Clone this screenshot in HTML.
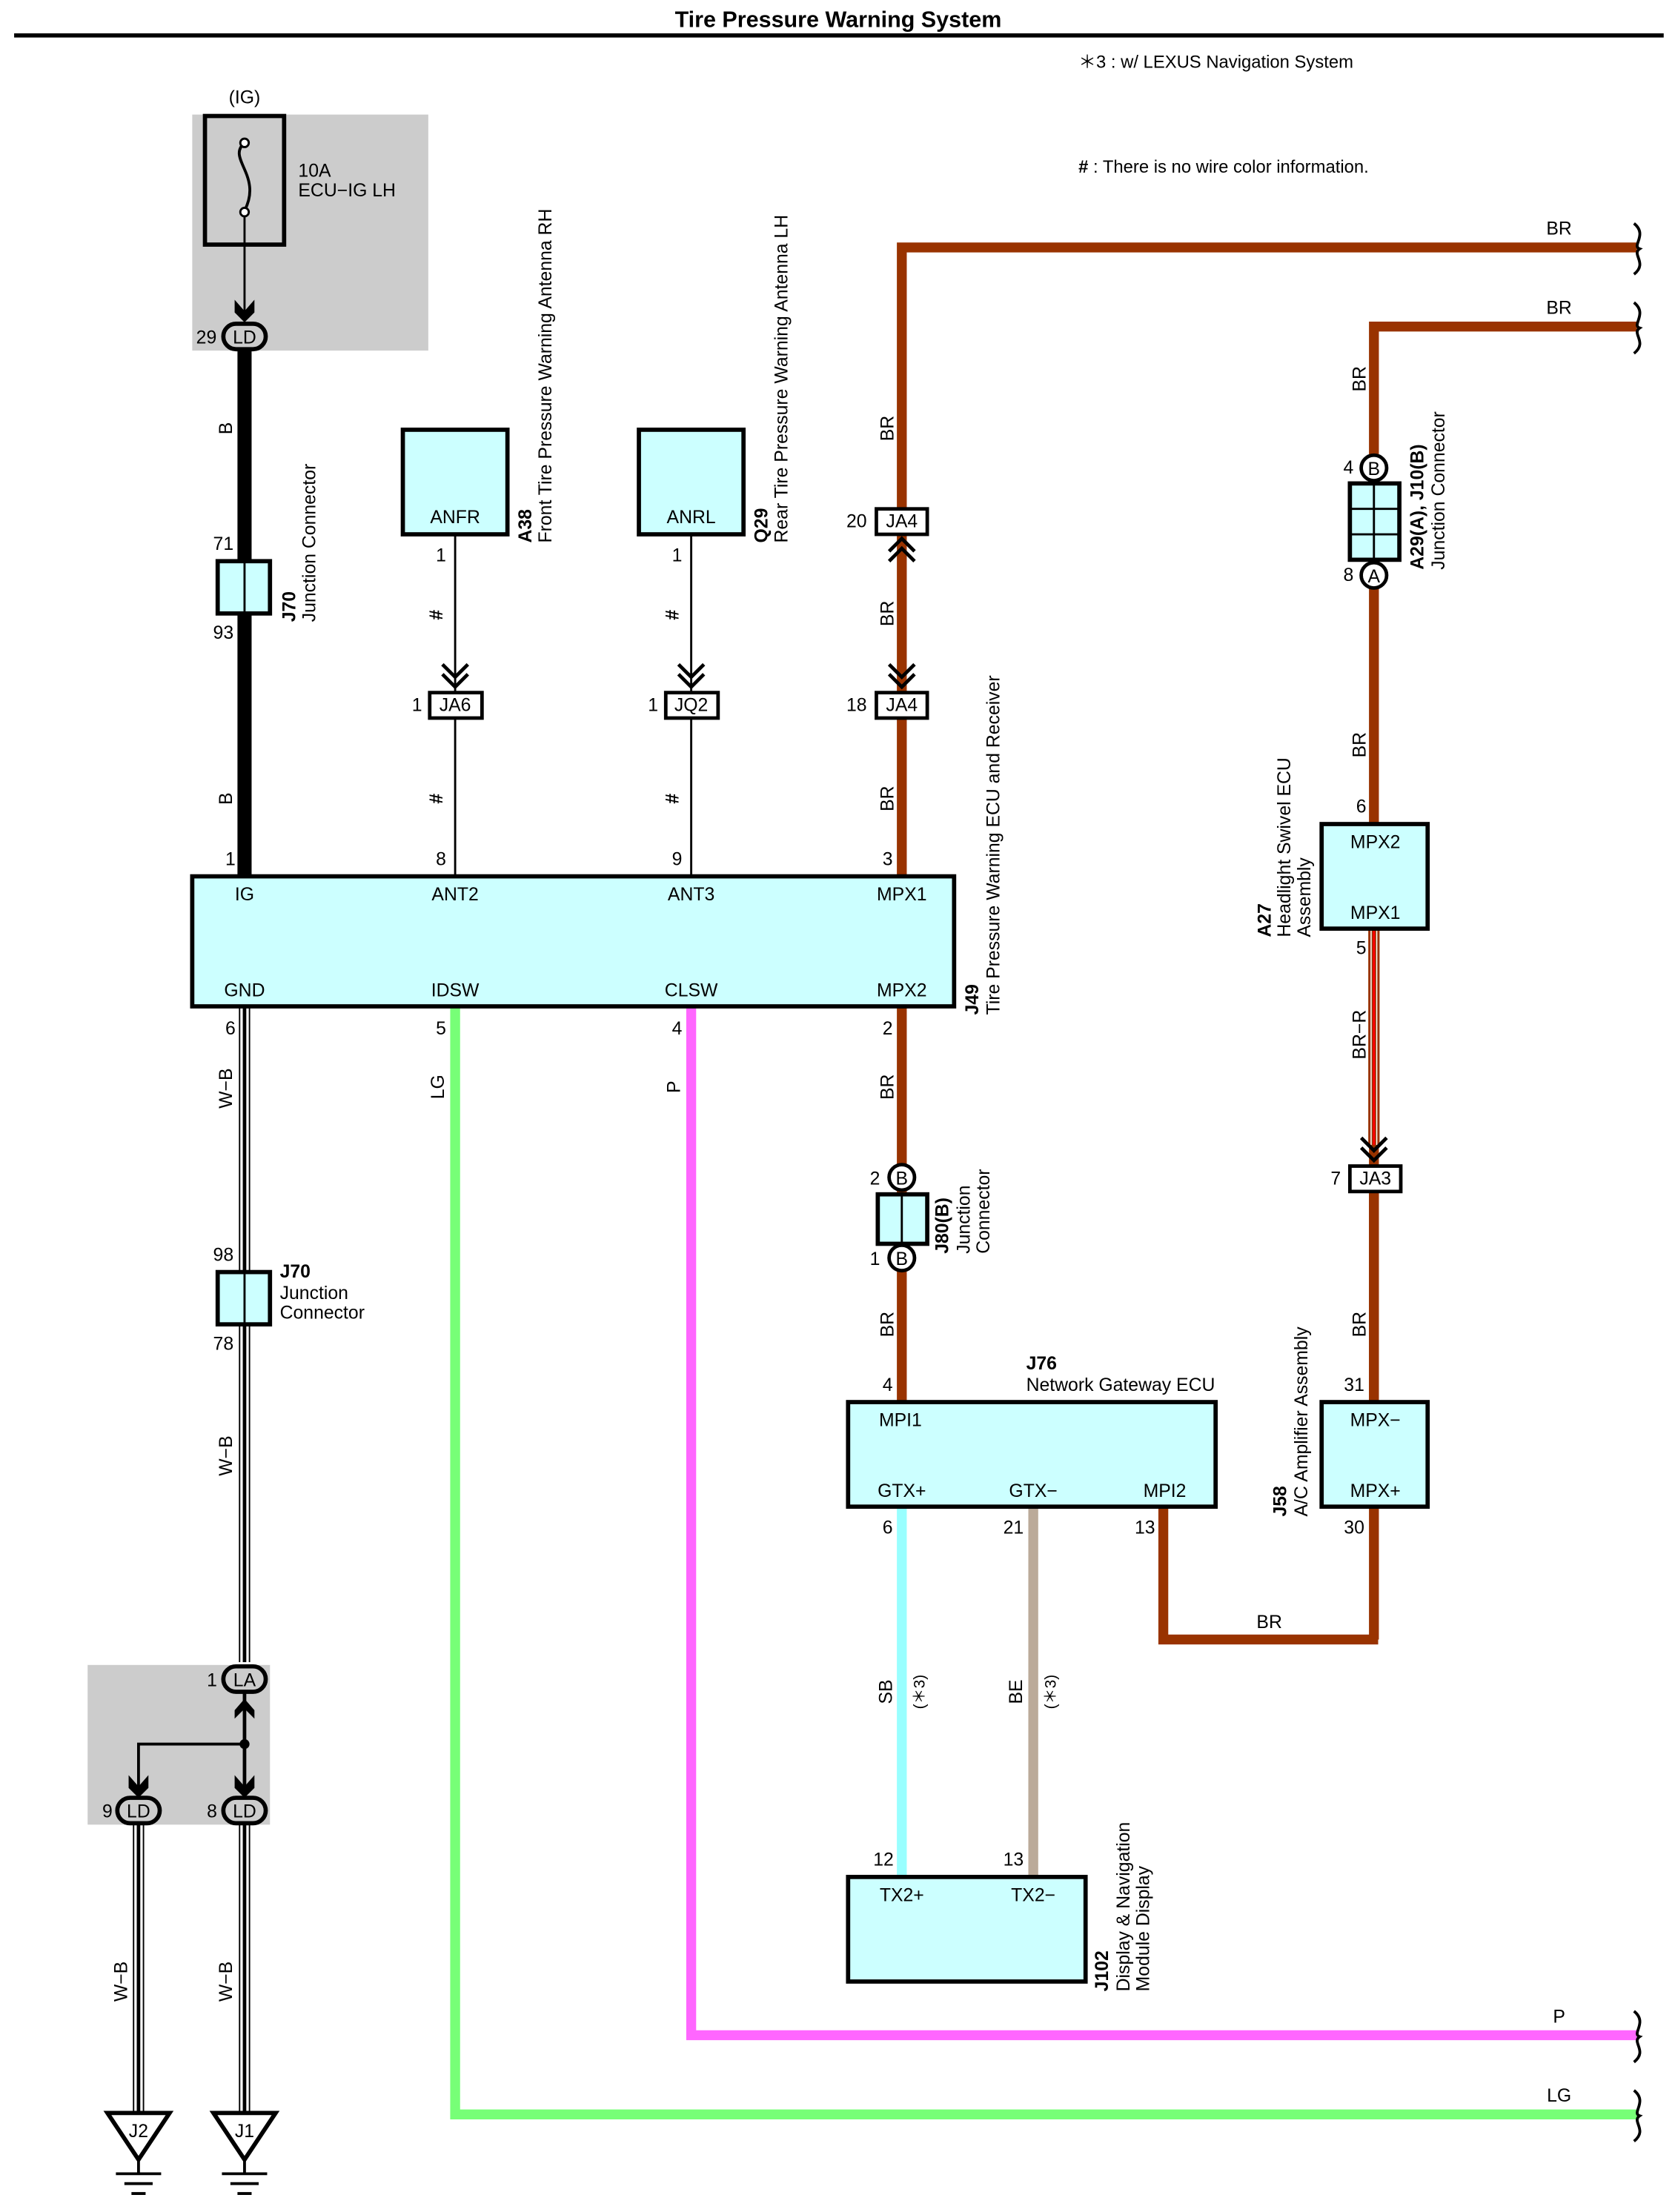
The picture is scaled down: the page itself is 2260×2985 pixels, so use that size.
<!DOCTYPE html>
<html><head><meta charset="utf-8"><style>html,body{margin:0;padding:0;background:#fff}svg{display:block}</style></head><body>
<svg width="2260" height="2985" viewBox="0 0 1185 1565" xmlns="http://www.w3.org/2000/svg" font-family="Liberation Sans, sans-serif" font-size="13">
<text x="593" y="19" text-anchor="middle" font-weight="bold" font-size="16">Tire Pressure Warning System</text>
<line x1="10" y1="25" x2="1177" y2="25" stroke="#000" stroke-width="3"/>
<text x="763" y="48" font-size="12.5">＊3 : w/ LEXUS Navigation System</text>
<text x="763" y="122" font-size="12.5"><tspan font-weight="bold">#</tspan> : There is no wire color information.</text>

<!-- gray areas -->
<rect x="136" y="81" width="167" height="167" fill="#cccccc"/>
<rect x="62" y="1178" width="129" height="113" fill="#cccccc"/>
<text x="173" y="73" text-anchor="middle">(IG)</text>
<rect x="145" y="82" width="56" height="91" fill="none" stroke="#000" stroke-width="3"/>
<path d="M173 101 C160 112,186 124,173 149" fill="none" stroke="#000" stroke-width="2"/>
<circle cx="173" cy="101" r="3" fill="#fff" stroke="#000" stroke-width="1.5"/>
<circle cx="173" cy="150" r="3" fill="#fff" stroke="#000" stroke-width="1.5"/>
<line x1="173" y1="153" x2="173" y2="226" stroke="#000" stroke-width="1.5"/>
<path d="M166 212 L173 220 L180 212 L180 221 L173 228 L166 221Z" fill="#000"/>
<text x="211" y="125">10A</text><text x="211" y="139">ECU−IG LH</text>

<!-- wires -->
<!-- B black -->
<line x1="173" y1="247" x2="173" y2="620" stroke="#000" stroke-width="10"/>
<!-- BR main -->
<g stroke="#993300" stroke-width="7" fill="none">
<path d="M638 620 V175 H1158"/>
<path d="M972 1160 V231 H1158"/>
<path d="M638 712 V992"/>
<path d="M823 1066 V1160 H975"/>
<path d="M972 843 V992"/>
</g>
<!-- BR-R -->
<line x1="972" y1="657" x2="972" y2="810" stroke="#993300" stroke-width="8"/>
<line x1="970" y1="657" x2="970" y2="810" stroke="#fff" stroke-width="0.8"/>
<line x1="974" y1="657" x2="974" y2="810" stroke="#fff" stroke-width="0.8"/>
<line x1="972" y1="657" x2="972" y2="810" stroke="#ff0000" stroke-width="1.5"/>
<!-- W-B -->
<g>
<line x1="173" y1="712" x2="173" y2="1176" stroke="#000" stroke-width="8"/>
<line x1="173" y1="712" x2="173" y2="1176" stroke="#fff" stroke-width="6"/>
<line x1="173" y1="712" x2="173" y2="1176" stroke="#000" stroke-width="2.5"/>
<line x1="98" y1="1290" x2="98" y2="1495" stroke="#000" stroke-width="8"/>
<line x1="98" y1="1290" x2="98" y2="1495" stroke="#fff" stroke-width="6"/>
<line x1="98" y1="1290" x2="98" y2="1495" stroke="#000" stroke-width="2.5"/>
<line x1="173" y1="1290" x2="173" y2="1495" stroke="#000" stroke-width="8"/>
<line x1="173" y1="1290" x2="173" y2="1495" stroke="#fff" stroke-width="6"/>
<line x1="173" y1="1290" x2="173" y2="1495" stroke="#000" stroke-width="2.5"/>
</g>
<!-- LG, P -->
<path d="M322 712 V1496 H1158" stroke="#77ff77" stroke-width="7" fill="none"/>
<path d="M489 712 V1440 H1158" stroke="#ff66ff" stroke-width="7" fill="none"/>
<!-- SB, BE -->
<line x1="638" y1="1066" x2="638" y2="1328" stroke="#99ffff" stroke-width="7"/>
<line x1="731" y1="1066" x2="731" y2="1328" stroke="#bbaa99" stroke-width="7"/>
<!-- thin antenna wires -->
<line x1="322" y1="378" x2="322" y2="620" stroke="#000" stroke-width="1.5"/>
<line x1="489" y1="378" x2="489" y2="620" stroke="#000" stroke-width="1.5"/>

<!-- squiggle ends -->
<g fill="none" stroke="#000" stroke-width="2">
<path d="M1156 158 C1166 166,1154 174,1160 176 C1154 180,1166 186,1156 194"/>
<path d="M1156 214 C1166 222,1154 230,1160 232 C1154 236,1166 242,1156 250"/>
<path d="M1156 1423 C1166 1431,1154 1439,1160 1441 C1154 1445,1166 1451,1156 1459"/>
<path d="M1156 1479 C1166 1487,1154 1495,1160 1497 C1154 1501,1166 1507,1156 1515"/>
</g>

<!-- LD ellipse top -->
<rect x="158" y="229" width="30" height="18" rx="9" fill="#ccc" stroke="#000" stroke-width="3"/>
<text x="173" y="243" text-anchor="middle">LD</text>
<text x="146" y="243" text-anchor="middle">29</text>

<!-- J70 top -->
<rect x="154" y="397" width="37" height="37" fill="#ccffff" stroke="#000" stroke-width="3"/>
<line x1="173" y1="397" x2="173" y2="434" stroke="#000" stroke-width="1.5"/>
<text x="158" y="389" text-anchor="middle">71</text>
<text x="158" y="452" text-anchor="middle">93</text>
<text transform="translate(209,440) rotate(-90)" font-weight="bold">J70</text>
<text transform="translate(223,440) rotate(-90)">Junction Connector</text>
<text transform="translate(164,303) rotate(-90)" text-anchor="middle">B</text>
<text transform="translate(164,565) rotate(-90)" text-anchor="middle">B</text>

<!-- antennas -->
<rect x="285" y="304" width="74" height="74" fill="#ccffff" stroke="#000" stroke-width="3"/>
<text x="322" y="370" text-anchor="middle">ANFR</text>
<rect x="452" y="304" width="74" height="74" fill="#ccffff" stroke="#000" stroke-width="3"/>
<text x="489" y="370" text-anchor="middle">ANRL</text>
<text x="312" y="397" text-anchor="middle">1</text>
<text x="479" y="397" text-anchor="middle">1</text>
<text transform="translate(376,384) rotate(-90)" font-weight="bold">A38</text>
<text transform="translate(390,384) rotate(-90)">Front Tire Pressure Warning Antenna RH</text>
<text transform="translate(543,384) rotate(-90)" font-weight="bold">Q29</text>
<text transform="translate(557,384) rotate(-90)">Rear Tire Pressure Warning Antenna LH</text>
<text transform="translate(313,435) rotate(-90)" text-anchor="middle" font-weight="bold">#</text>
<text transform="translate(480,435) rotate(-90)" text-anchor="middle" font-weight="bold">#</text>
<text transform="translate(313,565) rotate(-90)" text-anchor="middle" font-weight="bold">#</text>
<text transform="translate(480,565) rotate(-90)" text-anchor="middle" font-weight="bold">#</text>
<!-- chevrons -->
<g fill="none" stroke="#000" stroke-width="2.5">
<path d="M313 470 L322 479 L331 470 M313 477 L322 486 L331 477"/>
<path d="M480 470 L489 479 L498 470 M480 477 L489 486 L498 477"/>
<path d="M629 470 L638 479 L647 470 M629 477 L638 486 L647 477"/>
<path d="M629 390 L638 381 L647 390 M629 397 L638 388 L647 397"/>
<path d="M963 805 L972 814 L981 805 M963 812 L972 821 L981 812"/>
</g>
<g fill="#fff" stroke="#000" stroke-width="2.5">
<rect x="304" y="490" width="37" height="18"/>
<rect x="471" y="490" width="37" height="18"/>
<rect x="620" y="360" width="36" height="18"/>
<rect x="620" y="490" width="36" height="18"/>
<rect x="955" y="825" width="36" height="18"/>
</g>
<text x="322" y="503" text-anchor="middle">JA6</text>
<text x="489" y="503" text-anchor="middle">JQ2</text>
<text x="638" y="373" text-anchor="middle">JA4</text>
<text x="638" y="503" text-anchor="middle">JA4</text>
<text x="973" y="838" text-anchor="middle">JA3</text>
<text x="295" y="503" text-anchor="middle">1</text>
<text x="462" y="503" text-anchor="middle">1</text>
<text x="606" y="373" text-anchor="middle">20</text>
<text x="606" y="503" text-anchor="middle">18</text>
<text x="945" y="838" text-anchor="middle">7</text>

<!-- main ECU -->
<rect x="136" y="620" width="539" height="92" fill="#ccffff" stroke="#000" stroke-width="3"/>
<g text-anchor="middle">
<text x="173" y="637">IG</text><text x="322" y="637">ANT2</text><text x="489" y="637">ANT3</text><text x="638" y="637">MPX1</text>
<text x="173" y="705">GND</text><text x="322" y="705">IDSW</text><text x="489" y="705">CLSW</text><text x="638" y="705">MPX2</text>
<text x="163" y="612">1</text><text x="312" y="612">8</text><text x="479" y="612">9</text><text x="628" y="612">3</text>
<text x="163" y="732">6</text><text x="312" y="732">5</text><text x="479" y="732">4</text><text x="628" y="732">2</text>
</g>
<text transform="translate(692,718) rotate(-90)" font-weight="bold">J49</text>
<text transform="translate(707,718) rotate(-90)">Tire Pressure Warning ECU and Receiver</text>

<!-- wire labels rotated -->
<g text-anchor="middle">
<text transform="translate(632,303) rotate(-90)">BR</text>
<text transform="translate(632,434) rotate(-90)">BR</text>
<text transform="translate(632,565) rotate(-90)">BR</text>
<text transform="translate(632,769) rotate(-90)">BR</text>
<text transform="translate(632,937) rotate(-90)">BR</text>
<text transform="translate(966,268) rotate(-90)">BR</text>
<text transform="translate(966,527) rotate(-90)">BR</text>
<text transform="translate(966,732) rotate(-90)">BR−R</text>
<text transform="translate(966,937) rotate(-90)">BR</text>
<text transform="translate(164,770) rotate(-90)">W−B</text>
<text transform="translate(164,1030) rotate(-90)">W−B</text>
<text transform="translate(90,1402) rotate(-90)">W−B</text>
<text transform="translate(164,1402) rotate(-90)">W−B</text>
<text transform="translate(314,769) rotate(-90)">LG</text>
<text transform="translate(481,769) rotate(-90)">P</text>
<text transform="translate(631,1197) rotate(-90)">SB</text>
<text transform="translate(654,1197) rotate(-90)" font-size="11">(＊3)</text>
<text transform="translate(723,1197) rotate(-90)">BE</text>
<text transform="translate(747,1197) rotate(-90)" font-size="11">(＊3)</text>
<text x="1103" y="166">BR</text><text x="1103" y="222">BR</text>
<text x="1103" y="1431">P</text><text x="1103" y="1487">LG</text>
<text x="898" y="1152">BR</text>
</g>

<!-- A29 connector -->
<rect x="955" y="342" width="35" height="54" fill="#ccffff" stroke="#000" stroke-width="3"/>
<line x1="972" y1="342" x2="972" y2="396" stroke="#000" stroke-width="1.5"/>
<line x1="955" y1="360" x2="990" y2="360" stroke="#000" stroke-width="1.5"/>
<line x1="955" y1="378" x2="990" y2="378" stroke="#000" stroke-width="1.5"/>
<circle cx="972" cy="331" r="9" fill="#fff" stroke="#000" stroke-width="2.5"/>
<text x="972" y="336" text-anchor="middle">B</text>
<circle cx="972" cy="407" r="9" fill="#fff" stroke="#000" stroke-width="2.5"/>
<text x="972" y="412" text-anchor="middle">A</text>
<text x="954" y="335" text-anchor="middle">4</text>
<text x="954" y="411" text-anchor="middle">8</text>
<text transform="translate(1007,403) rotate(-90)" font-weight="bold">A29(A), J10(B)</text>
<text transform="translate(1022,403) rotate(-90)">Junction Connector</text>

<!-- A27 -->
<rect x="935" y="583" width="75" height="74" fill="#ccffff" stroke="#000" stroke-width="3"/>
<text x="973" y="600" text-anchor="middle">MPX2</text>
<text x="973" y="650" text-anchor="middle">MPX1</text>
<text x="963" y="575" text-anchor="middle">6</text>
<text x="963" y="675" text-anchor="middle">5</text>
<text transform="translate(899,663) rotate(-90)" font-weight="bold">A27</text>
<text transform="translate(913,663) rotate(-90)">Headlight Swivel ECU</text>
<text transform="translate(927,663) rotate(-90)">Assembly</text>

<!-- J58 -->
<rect x="935" y="992" width="75" height="74" fill="#ccffff" stroke="#000" stroke-width="3"/>
<text x="973" y="1009" text-anchor="middle">MPX−</text>
<text x="973" y="1059" text-anchor="middle">MPX+</text>
<text x="958" y="984" text-anchor="middle">31</text>
<text x="958" y="1085" text-anchor="middle">30</text>
<text transform="translate(910,1073) rotate(-90)" font-weight="bold">J58</text>
<text transform="translate(925,1073) rotate(-90)">A/C Amplifier Assembly</text>

<!-- J80 -->
<rect x="621" y="845" width="35" height="35" fill="#ccffff" stroke="#000" stroke-width="3"/>
<line x1="638" y1="845" x2="638" y2="880" stroke="#000" stroke-width="1.5"/>
<circle cx="638" cy="833" r="9" fill="#fff" stroke="#000" stroke-width="2.5"/>
<text x="638" y="838" text-anchor="middle">B</text>
<circle cx="638" cy="890" r="9" fill="#fff" stroke="#000" stroke-width="2.5"/>
<text x="638" y="895" text-anchor="middle">B</text>
<text x="619" y="838" text-anchor="middle">2</text>
<text x="619" y="895" text-anchor="middle">1</text>
<text transform="translate(671,887) rotate(-90)" font-weight="bold">J80(B)</text>
<text transform="translate(686,887) rotate(-90)">Junction</text>
<text transform="translate(700,887) rotate(-90)">Connector</text>

<!-- J76 -->
<rect x="600" y="992" width="260" height="74" fill="#ccffff" stroke="#000" stroke-width="3"/>
<text x="637" y="1009" text-anchor="middle">MPI1</text>
<text x="638" y="1059" text-anchor="middle">GTX+</text>
<text x="731" y="1059" text-anchor="middle">GTX−</text>
<text x="824" y="1059" text-anchor="middle">MPI2</text>
<text x="628" y="984" text-anchor="middle">4</text>
<text x="628" y="1085" text-anchor="middle">6</text>
<text x="717" y="1085" text-anchor="middle">21</text>
<text x="810" y="1085" text-anchor="middle">13</text>
<text x="726" y="969" font-weight="bold">J76</text>
<text x="726" y="984">Network Gateway ECU</text>

<!-- J102 -->
<rect x="600" y="1328" width="168" height="74" fill="#ccffff" stroke="#000" stroke-width="3"/>
<text x="638" y="1345" text-anchor="middle">TX2+</text>
<text x="731" y="1345" text-anchor="middle">TX2−</text>
<text x="625" y="1320" text-anchor="middle">12</text>
<text x="717" y="1320" text-anchor="middle">13</text>
<text transform="translate(784,1409) rotate(-90)" font-weight="bold">J102</text>
<text transform="translate(799,1409) rotate(-90)">Display &amp; Navigation</text>
<text transform="translate(813,1409) rotate(-90)">Module Display</text>

<!-- J70 lower -->
<rect x="154" y="900" width="37" height="37" fill="#ccffff" stroke="#000" stroke-width="3"/>
<line x1="173" y1="900" x2="173" y2="937" stroke="#000" stroke-width="1.5"/>
<text x="158" y="892" text-anchor="middle">98</text>
<text x="158" y="955" text-anchor="middle">78</text>
<text x="198" y="904" font-weight="bold">J70</text>
<text x="198" y="919">Junction</text>
<text x="198" y="933">Connector</text>

<!-- lower gray junction -->
<line x1="173" y1="1196" x2="173" y2="1272" stroke="#000" stroke-width="2.5"/>
<path d="M173 1234 H98 V1272" fill="none" stroke="#000" stroke-width="2"/>
<circle cx="173" cy="1234" r="3.5" fill="#000"/>
<path d="M166 1210 L173 1202 L180 1210 L180 1216 L173 1209 L166 1216Z" fill="#000"/>
<path d="M166 1256 L173 1264 L180 1256 L180 1265 L173 1272 L166 1265Z" fill="#000"/>
<path d="M91 1256 L98 1264 L105 1256 L105 1265 L98 1272 L91 1265Z" fill="#000"/>
<rect x="158" y="1179" width="30" height="18" rx="9" fill="#ccc" stroke="#000" stroke-width="3"/>
<text x="173" y="1193" text-anchor="middle">LA</text>
<text x="150" y="1193" text-anchor="middle">1</text>
<rect x="158" y="1272" width="30" height="18" rx="9" fill="#ccc" stroke="#000" stroke-width="3"/>
<text x="173" y="1286" text-anchor="middle">LD</text>
<text x="150" y="1286" text-anchor="middle">8</text>
<rect x="83" y="1272" width="30" height="18" rx="9" fill="#ccc" stroke="#000" stroke-width="3"/>
<text x="98" y="1286" text-anchor="middle">LD</text>
<text x="76" y="1286" text-anchor="middle">9</text>

<!-- grounds -->
<g fill="#fff" stroke="#000" stroke-width="3">
<path d="M76 1495 H120 L98 1528Z"/>
<path d="M151 1495 H195 L173 1528Z"/>
</g>
<text x="98" y="1512" text-anchor="middle">J2</text>
<text x="173" y="1512" text-anchor="middle">J1</text>
<g stroke="#000" stroke-width="2">
<line x1="98" y1="1528" x2="98" y2="1538"/><line x1="82" y1="1538" x2="114" y2="1538"/><line x1="88" y1="1545" x2="108" y2="1545"/><line x1="93" y1="1552" x2="103" y2="1552"/>
<line x1="173" y1="1528" x2="173" y2="1538"/><line x1="157" y1="1538" x2="189" y2="1538"/><line x1="163" y1="1545" x2="183" y2="1545"/><line x1="168" y1="1552" x2="178" y2="1552"/>
</g>
</svg>
</body></html>
